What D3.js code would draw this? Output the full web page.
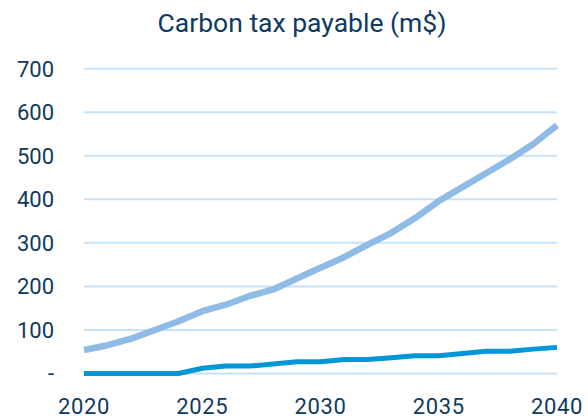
<!DOCTYPE html>
<html><head><meta charset="utf-8">
<script src="https://cdn.jsdelivr.net/npm/d3@7"></script>
<style>
html,body{margin:0;padding:0;background:#fff;}
text{font-family:Roboto,"Noto Sans",sans-serif;fill:#0f3a5f;}
</style></head>
<body>
<svg id="chart" width="588" height="418"></svg>
<script>
const years = [2020,2021,2022,2023,2024,2025,2026,2027,2028,2029,2030,2031,2032,2033,2034,2035,2036,2037,2038,2039,2040];
const seriesLight = [54,65,80,100,120,143,158,178,193,218,243,267,296,323,357,396,428,460,492,527,570];
const seriesDark = [0,0,0,0,0,12,17,17,22,27,27,32,32,36,41,41,46,51,51,56,60];
const yTicks = [0,100,200,300,400,500,600,700];
const xTicks = [2020,2025,2030,2035,2040];
const title = "Carbon tax payable (m$)";

const svg = d3.select("#chart");
const x = d3.scaleLinear().domain([2020,2040]).range([84,557]);
const y = d3.scaleLinear().domain([0,700]).range([373.5,68.7]);

svg.append("text").attr("x",302).attr("y",32).attr("text-anchor","middle")
  .style("font-size","26.5px").text(title);

svg.append("g").selectAll("line").data(yTicks).join("line")
  .attr("x1",84).attr("x2",557).attr("y1",d=>y(d)).attr("y2",d=>y(d))
  .attr("stroke","#c6e2f8").attr("stroke-width",2);

svg.append("g").selectAll("text").data(yTicks).join("text")
  .attr("x",54).attr("y",d=>y(d)).attr("dy","0.36em").attr("text-anchor","end")
  .style("font-size","22px").text(d=>d===0?"-":d);

svg.append("g").selectAll("text").data(xTicks).join("text")
  .attr("x",d=>x(d)).attr("y",414).attr("text-anchor","middle")
  .style("font-size","22px").style("letter-spacing","0.6px").text(d=>d);

const line = d3.line().x((d,i)=>x(years[i])).y(d=>y(d));
svg.append("path").datum(seriesLight).attr("d",line).attr("fill","none")
  .attr("stroke","#8fbbe7").attr("stroke-width",6.5).attr("stroke-linejoin","round");
svg.append("path").datum(seriesDark).attr("d",line).attr("fill","none")
  .attr("stroke","#0097d8").attr("stroke-width",5).attr("stroke-linejoin","round");
</script>
</body></html>
